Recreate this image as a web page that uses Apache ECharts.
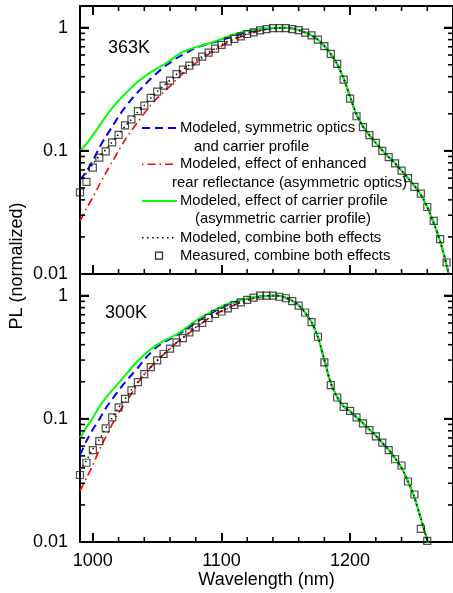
<!DOCTYPE html>
<html>
<head>
<meta charset="utf-8">
<script src="https://cdn.jsdelivr.net/npm/echarts@6/dist/echarts.min.js"></script>
<style>
html, body { margin: 0; padding: 0; background: #ffffff; }
#chart { width: 453px; height: 593px; }
</style>
</head>
<body>
<div id="chart"></div>
<script>
// Wavelength grid (nm) of the modeled spectra
const wlGrid = [990, 995, 1000, 1005, 1010, 1015, 1020, 1025, 1030, 1035,
  1040, 1045, 1050, 1055, 1060, 1065, 1070, 1075, 1080, 1085,
  1090, 1095, 1100, 1105, 1110, 1115, 1120, 1125, 1130, 1135,
  1140, 1145, 1150, 1155, 1160, 1165, 1170, 1175, 1180, 1185,
  1190, 1195, 1200, 1205, 1210, 1215, 1220, 1225, 1230, 1235,
  1240, 1245, 1250, 1255, 1260, 1265, 1270, 1275, 1280];

// ---- 363 K ----
// short-wavelength part (990-1145 nm), one array per model
const symTop = [0.058, 0.068, 0.083, 0.106, 0.13, 0.157, 0.19, 0.225, 0.262, 0.30,
  0.34, 0.385, 0.43, 0.477, 0.52, 0.565, 0.605, 0.645, 0.685, 0.715,
  0.74, 0.765, 0.79, 0.825, 0.86, 0.89, 0.915, 0.94, 0.96, 0.975, 0.99, 0.995];
const rearTop = [0.027, 0.034, 0.042, 0.053, 0.066, 0.081, 0.100, 0.123, 0.146, 0.172,
  0.202, 0.235, 0.268, 0.30, 0.335, 0.38, 0.425, 0.47, 0.515, 0.565,
  0.61, 0.66, 0.71, 0.76, 0.805, 0.845, 0.88, 0.915, 0.945, 0.97, 0.985, 0.995];
const carrierTop = [0.100, 0.114, 0.134, 0.16, 0.19, 0.222, 0.256, 0.29, 0.326, 0.365,
  0.40, 0.435, 0.468, 0.50, 0.54, 0.59, 0.635, 0.665, 0.695, 0.72,
  0.745, 0.775, 0.81, 0.85, 0.885, 0.915, 0.94, 0.96, 0.977, 0.99, 0.997, 1.0];
const bothTop = [0.055, 0.066, 0.078, 0.091, 0.102, 0.118, 0.136, 0.158, 0.18, 0.207,
  0.235, 0.268, 0.302, 0.338, 0.375, 0.418, 0.458, 0.497, 0.538, 0.585,
  0.63, 0.675, 0.725, 0.775, 0.815, 0.855, 0.89, 0.92, 0.95, 0.975, 0.99, 0.997];
// long-wavelength part (1150-1280 nm), where all models coincide
const tailTop = [1.0, 0.985, 0.955, 0.915, 0.865, 0.80, 0.71, 0.61, 0.505, 0.385,
  0.275, 0.197, 0.158, 0.134, 0.116, 0.101, 0.089, 0.079, 0.069, 0.060,
  0.052, 0.044, 0.035, 0.026, 0.0185, 0.0118, 0.0072];
// measured, 990-1275 nm
const measTop = [0.046, 0.056, 0.073, 0.088, 0.099, 0.117, 0.135, 0.161, 0.18, 0.21,
  0.233, 0.269, 0.303, 0.339, 0.372, 0.419, 0.457, 0.492, 0.533, 0.582,
  0.628, 0.676, 0.726, 0.775, 0.81, 0.85, 0.889, 0.917, 0.95, 0.975,
  0.99, 0.993, 0.99, 0.975, 0.955, 0.913, 0.867, 0.80, 0.708, 0.612,
  0.508, 0.379, 0.265, 0.191, 0.156, 0.134, 0.116, 0.100, 0.089, 0.079,
  0.069, 0.060, 0.051, 0.045, 0.035, 0.027, 0.0192, 0.0124];

// ---- 300 K ----
const symBot = [0.051, 0.066, 0.082, 0.099, 0.122, 0.144, 0.17, 0.198, 0.227, 0.26,
  0.303, 0.345, 0.385, 0.418, 0.445, 0.475, 0.51, 0.555, 0.605, 0.655,
  0.70, 0.75, 0.80, 0.845, 0.885, 0.918, 0.945, 0.967, 0.983, 0.994, 0.999, 0.998];
const rearBot = [0.026, 0.033, 0.042, 0.056, 0.071, 0.09, 0.112, 0.134, 0.16, 0.195,
  0.23, 0.263, 0.297, 0.334, 0.37, 0.415, 0.452, 0.50, 0.55, 0.60,
  0.655, 0.705, 0.748, 0.79, 0.84, 0.882, 0.922, 0.96, 0.985, 0.997, 1.0, 0.995];
const carrierBot = [0.070, 0.085, 0.102, 0.125, 0.148, 0.17, 0.195, 0.225, 0.26, 0.296,
  0.332, 0.367, 0.40, 0.43, 0.455, 0.485, 0.525, 0.575, 0.625, 0.675,
  0.72, 0.77, 0.815, 0.86, 0.895, 0.925, 0.95, 0.97, 0.985, 0.995, 1.0, 0.998];
const bothBot = [0.038, 0.046, 0.057, 0.068, 0.084, 0.102, 0.123, 0.145, 0.172, 0.2,
  0.23, 0.263, 0.297, 0.335, 0.372, 0.415, 0.455, 0.502, 0.552, 0.602,
  0.655, 0.705, 0.75, 0.795, 0.84, 0.882, 0.922, 0.958, 0.985, 0.997, 1.0, 0.995];
const tailBot = [0.96, 0.91, 0.835, 0.73, 0.61, 0.46, 0.30, 0.195, 0.15, 0.126,
  0.115, 0.103, 0.092, 0.082, 0.073, 0.064, 0.056, 0.048, 0.040, 0.031,
  0.023, 0.0155, 0.0103, 0.0066, 0.004, 0.0025, 0.0015];
// measured, 990-1260 nm
const measBot = [0.035, 0.044, 0.0557, 0.066, 0.0836, 0.1026, 0.124, 0.145, 0.17, 0.199,
  0.231, 0.263, 0.298, 0.336, 0.371, 0.418, 0.453, 0.503, 0.553, 0.60,
  0.659, 0.71, 0.744, 0.79, 0.84, 0.883, 0.923, 0.963, 1.0, 1.0,
  1.0, 0.98, 0.953, 0.905, 0.83, 0.73, 0.61, 0.464, 0.287, 0.188,
  0.149, 0.125, 0.116, 0.1026, 0.092, 0.081, 0.072, 0.064, 0.0557, 0.047,
  0.0418, 0.031, 0.0243, 0.0128, 0.0102];

// Axis ranges and tick positions
const xMin = 990, xMax = 1280;
const yMin = 0.01, yMax = 1.5;
const xMajor = [1000, 1100, 1200];
const xMinor = [1020, 1040, 1060, 1080, 1120, 1140, 1160, 1180, 1220, 1240, 1260, 1280];
const yMajor = [0.01, 0.1, 1];
const yMinor = [0.02, 0.03, 0.04, 0.05, 0.06, 0.07, 0.08, 0.09,
  0.2, 0.3, 0.4, 0.5, 0.6, 0.7, 0.8, 0.9];

const legendLabels = [
  ['Modeled, symmetric optics', 'and carrier profile'],
  ['Modeled, effect of enhanced', 'rear reflectance (asymmetric optics)'],
  ['Modeled, effect of carrier profile', '(asymmetric carrier profile)'],
  ['Modeled, combine both effects'],
  ['Measured, combine both effects']
];

const FONT = '"Liberation Sans", Arial, Helvetica, sans-serif';
const BLUE = '#0000ff', RED = '#ff0000', GREEN = '#00ff00', BLACK = '#000000';

function pairs(xs, ys) {
  return ys.map((v, i) => [xs[i], v]);
}
function model(head, tail) {
  return pairs(wlGrid, head.concat(tail));
}

function lineSeries(name, data, xi, yi, color, width, dash) {
  return {
    name: name, type: 'line', xAxisIndex: xi, yAxisIndex: yi,
    data: data, showSymbol: false, symbol: 'none', smooth: 0.3, clip: true,
    lineStyle: { color: color, width: width, type: dash },
    emphasis: { disabled: true }, silent: true, z: 3
  };
}
function measSeries(data, xi, yi) {
  return {
    name: 'Measured', type: 'scatter', xAxisIndex: xi, yAxisIndex: yi,
    data: data, symbol: 'rect', symbolSize: 7, clip: true,
    itemStyle: { color: 'rgba(255,255,255,0)', borderColor: '#222', borderWidth: 1.2 },
    silent: true, z: 4
  };
}

function xAxisDef(grid, pos, labels) {
  return {
    type: 'value', gridIndex: grid, position: pos, min: xMin, max: xMax,
    axisLine: { show: true, onZero: false, lineStyle: { color: BLACK, width: 2 } },
    axisTick: { show: true, inside: true, length: 9, customValues: xMajor, lineStyle: { color: BLACK, width: 2 } },
    axisLabel: labels ? { show: true, customValues: xMajor, formatter: v => String(v),
      color: BLACK, fontSize: 18, fontFamily: FONT, margin: 10 } : { show: false },
    splitLine: { show: false }
  };
}
function yAxisDef(grid, pos, labels) {
  return {
    type: 'log', gridIndex: grid, position: pos, min: yMin, max: yMax,
    axisLine: { show: true, onZero: false, lineStyle: { color: BLACK, width: 2 } },
    axisTick: { show: true, inside: true, length: 9, lineStyle: { color: BLACK, width: 2 } },
    axisLabel: labels ? { show: true, color: BLACK, fontSize: 18, fontFamily: FONT, margin: 12, showMaxLabel: false } : { show: false },
    splitLine: { show: false }
  };
}

// Legend drawn as graphic elements
const legendGraphics = [];
const rowY = [128, 146.7, 164.3, 182.7, 201, 219, 237.7, 255.7];
const textFont = '14.8px ' + FONT;
function legendText(str, x, y) {
  legendGraphics.push({ type: 'text', x: x, y: y, silent: true,
    style: { text: str, font: textFont, fill: BLACK, align: 'left', verticalAlign: 'middle' } });
}
function legendLine(y, color, width, dash) {
  const el = { type: 'line', silent: true,
    shape: { x1: 142, y1: y, x2: 177, y2: y },
    style: { stroke: color, lineWidth: width } };
  if (dash) el.style.lineDash = dash;
  legendGraphics.push(el);
}
legendLine(rowY[0], BLUE, 2, [8, 5]);
legendText(legendLabels[0][0], 180, rowY[0]);
legendText(legendLabels[0][1], 194, rowY[1]);
legendLine(rowY[2], RED, 1.6, [1.5, 4, 8, 4]);
legendText(legendLabels[1][0], 180, rowY[2]);
legendText(legendLabels[1][1], 172, rowY[3]);
legendLine(rowY[4], GREEN, 2, null);
legendText(legendLabels[2][0], 180, rowY[4]);
legendText(legendLabels[2][1], 195, rowY[5]);
legendLine(rowY[6], BLACK, 1.5, [1.5, 3.5]);
legendText(legendLabels[3][0], 180, rowY[6]);
legendGraphics.push({ type: 'rect', silent: true,
  shape: { x: 155.5, y: rowY[7] - 3.5, width: 7, height: 7 },
  style: { fill: 'none', stroke: '#222', lineWidth: 1.2 } });
legendText(legendLabels[4][0], 180, rowY[7]);

const baseGraphics = [
  { type: 'text', x: 17, y: 266, rotation: Math.PI / 2, silent: true,
    style: { text: 'PL (normalized)', font: '18px ' + FONT, fill: BLACK, align: 'center', verticalAlign: 'middle' } },
  { type: 'text', x: 108, y: 48, silent: true,
    style: { text: '363K', font: '18px ' + FONT, fill: BLACK, align: 'left', verticalAlign: 'middle' } },
  { type: 'text', x: 105, y: 313.5, silent: true,
    style: { text: '300K', font: '18px ' + FONT, fill: BLACK, align: 'left', verticalAlign: 'middle' } }
].concat(legendGraphics);

const option = {
  animation: false,
  grid: [
    { left: 80, top: 6, width: 377, height: 268 },
    { left: 80, top: 274, width: 377, height: 268 }
  ],
  xAxis: [
    xAxisDef(0, 'bottom', false),
    xAxisDef(0, 'top', false),
    Object.assign(xAxisDef(1, 'bottom', true), {
      name: 'Wavelength (nm)', nameLocation: 'middle', nameGap: 29,
      nameTextStyle: { color: BLACK, fontSize: 18, fontFamily: FONT }
    })
  ],
  yAxis: [
    yAxisDef(0, 'left', true),
    yAxisDef(0, 'right', false),
    yAxisDef(1, 'left', true),
    yAxisDef(1, 'right', false)
  ],
  graphic: baseGraphics,
  series: [
    lineSeries('Symmetric', model(symTop, tailTop), 0, 0, BLUE, 2, [8, 5]),
    lineSeries('Rear reflectance', model(rearTop, tailTop), 0, 0, RED, 1.6, [8, 4, 1.5, 4]),
    lineSeries('Carrier profile', model(carrierTop, tailTop), 0, 0, GREEN, 2, 'solid'),
    lineSeries('Combined', model(bothTop, tailTop), 0, 0, BLACK, 1.5, [1.5, 3.5]),
    measSeries(pairs(wlGrid, measTop), 0, 0),
    lineSeries('Symmetric', model(symBot, tailBot), 2, 2, BLUE, 2, [8, 5]),
    lineSeries('Rear reflectance', model(rearBot, tailBot), 2, 2, RED, 1.6, [8, 4, 1.5, 4]),
    lineSeries('Carrier profile', model(carrierBot, tailBot), 2, 2, GREEN, 2, 'solid'),
    lineSeries('Combined', model(bothBot, tailBot), 2, 2, BLACK, 1.5, [1.5, 3.5]),
    measSeries(pairs(wlGrid, measBot), 2, 2)
  ]
};

const chart = echarts.init(document.getElementById('chart'));
chart.setOption(option);

// Minor ticks on every side of each panel, positioned through the panel axes
function panelTicks(axisIdx, withTop) {
  const finder = { xAxisIndex: axisIdx, yAxisIndex: axisIdx };
  const px = p => chart.convertToPixel(finder, p);
  const els = [];
  const seg = (x1, y1, x2, y2, w) => els.push({
    type: 'line', silent: true, z: 50,
    shape: { x1: x1, y1: y1, x2: x2, y2: y2 },
    style: { stroke: BLACK, lineWidth: w }
  });
  const xTick = (v, len, w) => {
    const b = px([v, yMin]);
    seg(b[0], b[1], b[0], b[1] - len, w);
    if (withTop) {
      const t = px([v, yMax]);
      seg(t[0], t[1], t[0], t[1] + len, w);
    }
  };
  const yTick = (v, len, w) => {
    const l = px([xMin, v]);
    const r = px([xMax, v]);
    seg(l[0], l[1], l[0] + len, l[1], w);
    seg(r[0], r[1], r[0] - len, r[1], w);
  };
  xMinor.forEach(v => xTick(v, 5, 1.6));
  yMinor.forEach(v => yTick(v, 5, 1.6));
  yMajor.forEach(v => yTick(v, 9, 2));
  return els;
}
try {
  chart.setOption({ graphic: baseGraphics.concat(panelTicks(0, true), panelTicks(2, false)) });
} catch (e) {
  console.error(e);
}
</script>
</body>
</html>
